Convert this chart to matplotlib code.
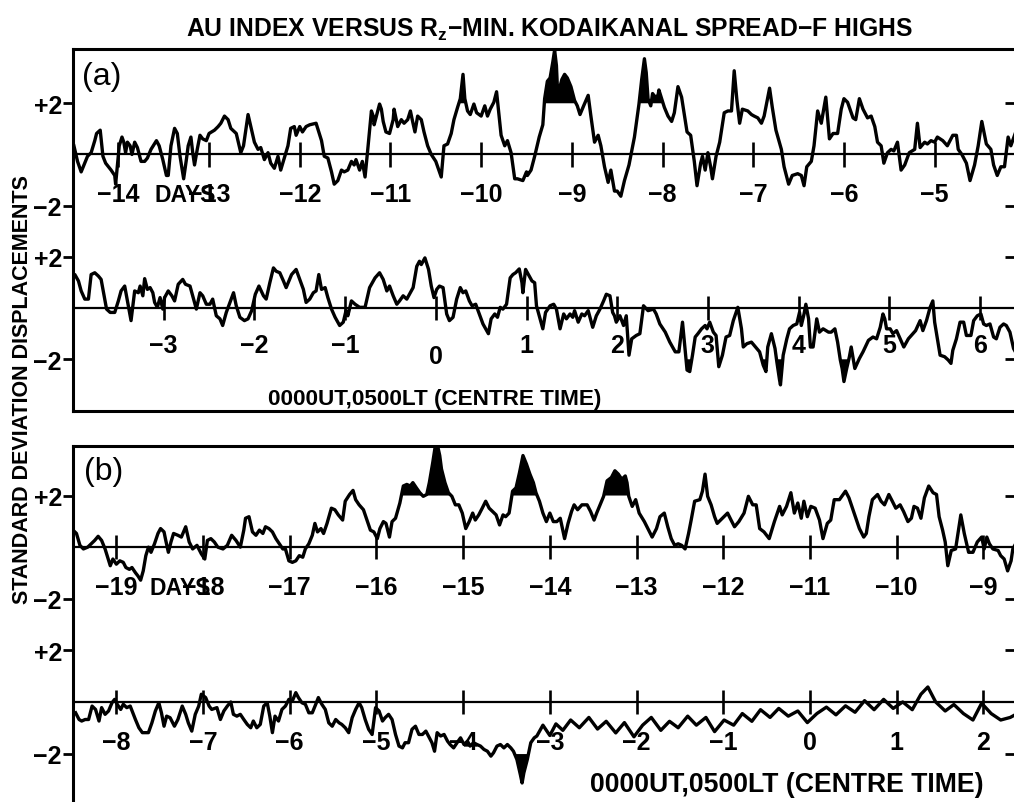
import numpy as np
import matplotlib.pyplot as plt

plt.rcParams['mathtext.default'] = 'regular'
SANS = ['Liberation Sans', 'DejaVu Sans']

# (day, standard-deviation displacement) pairs for each of the four rows

# (a) upper row: days -14.5 .. -4
a_upper = [
    (-14.49, 0.34), (-14.45, -0.27), (-14.41, -0.68), (-14.34, -0.07), (-14.30, 0.07), (-14.26, 0.54),
    (-14.24, 0.82), (-14.20, 0.95), (-14.17, -0.07), (-14.14, -0.34), (-14.08, -0.61), (-14.04, -0.82),
    (-14.03, -1.16), (-13.99, 0.34), (-13.96, 0.68), (-13.94, 0.48), (-13.92, 0.07), (-13.90, 0.48),
    (-13.87, 0.34), (-13.85, 0.0), (-13.82, 0.48), (-13.79, 0.27), (-13.75, -0.27), (-13.71, -0.27),
    (-13.68, -0.14), (-13.64, 0.20), (-13.58, 0.54), (-13.55, 0.34), (-13.51, -0.20), (-13.47, -0.82),
    (-13.45, -0.82), (-13.42, 0.34), (-13.38, 1.02), (-13.35, 0.82), (-13.32, -0.07), (-13.28, -0.95),
    (-13.25, -0.20), (-13.23, 0.34), (-13.20, 0.68), (-13.18, 0.07), (-13.16, -0.41), (-13.13, 0.20),
    (-13.10, 0.75), (-13.07, 0.61), (-13.03, 0.54), (-13.00, 0.82), (-12.94, 0.95), (-12.90, 1.09),
    (-12.87, 1.22), (-12.83, 1.50), (-12.79, 1.36), (-12.76, 1.02), (-12.70, 0.82), (-12.65, 0.07),
    (-12.62, 0.34), (-12.57, 1.56), (-12.54, 1.09), (-12.50, 0.48), (-12.46, 0.20), (-12.43, 0.27),
    (-12.39, -0.20), (-12.35, 0.07), (-12.32, -0.34), (-12.28, -0.54), (-12.24, -0.07), (-12.21, -0.61),
    (-12.17, -0.14), (-12.13, 0.34), (-12.10, 1.02), (-12.06, 1.09), (-12.04, 0.75), (-12.00, 1.09),
    (-11.97, 0.88), (-11.93, 1.09), (-11.89, 1.16), (-11.82, 1.22), (-11.76, 0.54), (-11.73, -0.07),
    (-11.69, -0.14), (-11.65, -0.68), (-11.62, -1.16), (-11.58, -1.02), (-11.54, -0.61), (-11.51, -0.68),
    (-11.47, -0.61), (-11.43, -0.27), (-11.40, -0.41), (-11.38, -0.20), (-11.34, -0.61), (-11.31, -0.27),
    (-11.28, -0.88), (-11.25, 0.20), (-11.21, 1.70), (-11.19, 1.50), (-11.18, 1.16), (-11.12, 1.97),
    (-11.10, 1.77), (-11.08, 1.29), (-11.05, 0.88), (-11.01, 0.82), (-10.97, 1.36), (-10.96, 1.77),
    (-10.92, 1.09), (-10.88, 1.36), (-10.85, 1.22), (-10.81, 1.36), (-10.78, 1.70), (-10.76, 1.36),
    (-10.73, 0.88), (-10.70, 1.50), (-10.66, 1.36), (-10.63, 0.88), (-10.59, 0.34), (-10.55, 0.0),
    (-10.50, -0.27), (-10.44, -0.88), (-10.41, 0.34), (-10.37, 0.41), (-10.33, 0.82), (-10.30, 1.36),
    (-10.26, 1.84), (-10.23, 2.18), (-10.20, 3.13), (-10.18, 2.18), (-10.15, 1.70), (-10.12, 1.56),
    (-10.08, 1.97), (-10.05, 1.63), (-10.00, 1.50), (-9.96, 1.90), (-9.93, 1.50), (-9.90, 1.77),
    (-9.86, 2.04), (-9.83, 2.45), (-9.78, 0.75), (-9.74, 0.34), (-9.71, 0.54), (-9.67, 0.07),
    (-9.63, -0.95), (-9.60, -0.95), (-9.54, -1.02), (-9.50, -0.68), (-9.49, -0.82), (-9.45, -0.61),
    (-9.41, -0.07), (-9.36, 0.68), (-9.32, 1.16), (-9.30, 2.18), (-9.27, 2.86), (-9.24, 2.99),
    (-9.21, 3.61), (-9.19, 4.08), (-9.17, 3.47), (-9.16, 2.65), (-9.14, 2.52), (-9.11, 2.93),
    (-9.08, 3.13), (-9.05, 2.99), (-9.01, 2.65), (-8.97, 2.11), (-8.94, 1.90), (-8.91, 1.56),
    (-8.87, 1.90), (-8.82, 2.31), (-8.79, 1.50), (-8.75, 0.48), (-8.71, 0.75), (-8.68, 0.34),
    (-8.64, -0.48), (-8.60, -1.09), (-8.57, -0.61), (-8.53, -1.43), (-8.50, -1.43), (-8.46, -1.63),
    (-8.42, -1.02), (-8.37, -0.41), (-8.31, 0.68), (-8.26, 1.97), (-8.23, 2.93), (-8.20, 3.74),
    (-8.18, 3.20), (-8.16, 2.18), (-8.13, 1.90), (-8.11, 2.38), (-8.08, 2.24), (-8.05, 2.31),
    (-8.04, 2.52), (-8.01, 2.18), (-7.98, 1.84), (-7.94, 1.50), (-7.90, 1.29), (-7.87, 1.63),
    (-7.83, 2.65), (-7.79, 2.24), (-7.76, 1.56), (-7.73, 0.88), (-7.69, 0.75), (-7.65, -0.27),
    (-7.62, -1.22), (-7.58, -0.34), (-7.56, -0.07), (-7.53, -0.61), (-7.50, 0.07), (-7.47, -0.48),
    (-7.45, -0.95), (-7.41, -0.07), (-7.37, 0.48), (-7.32, 1.63), (-7.28, 1.70), (-7.24, 1.70),
    (-7.21, 3.27), (-7.18, 2.11), (-7.15, 1.22), (-7.12, 1.77), (-7.06, 1.70), (-7.02, 1.56),
    (-6.99, 1.50), (-6.95, 1.43), (-6.91, 1.22), (-6.88, 1.50), (-6.82, 2.59), (-6.79, 1.84),
    (-6.75, 0.95), (-6.69, 0.20), (-6.66, -0.48), (-6.61, -1.16), (-6.57, -0.82), (-6.51, -0.75),
    (-6.47, -0.82), (-6.44, -1.22), (-6.41, -0.48), (-6.36, -0.27), (-6.33, 0.34), (-6.29, 1.70),
    (-6.25, 1.22), (-6.20, 2.24), (-6.16, 0.61), (-6.12, 0.82), (-6.07, 0.82), (-6.03, 1.77),
    (-6.00, 2.18), (-5.96, 2.04), (-5.90, 1.43), (-5.87, 1.36), (-5.83, 2.18), (-5.79, 1.77),
    (-5.74, 1.43), (-5.70, 1.50), (-5.66, 1.09), (-5.63, 0.48), (-5.59, 0.34), (-5.56, -0.34),
    (-5.52, 0.07), (-5.48, 0.20), (-5.45, 0.14), (-5.41, 0.48), (-5.37, -0.61), (-5.33, -0.41),
    (-5.28, 0.07), (-5.22, 0.20), (-5.19, 1.22), (-5.16, 0.27), (-5.11, 0.48), (-5.08, 0.41),
    (-5.04, 0.54), (-5.00, 0.48), (-4.97, 0.68), (-4.91, 0.54), (-4.86, 0.34), (-4.80, 0.75),
    (-4.76, 0.75), (-4.74, 0.20), (-4.70, 0.0), (-4.65, -0.34), (-4.61, -1.02), (-4.56, -0.41),
    (-4.52, 0.34), (-4.48, 1.29), (-4.43, 0.41), (-4.38, 0.20), (-4.35, -0.41), (-4.31, -0.82),
    (-4.27, -0.48), (-4.23, -0.48), (-4.19, 0.68), (-4.16, 0.34), (-4.12, 0.75), (-4.07, 1.15),
    (-4.02, 0.50),
]

# (a) lower row: days -4 .. 6.5
a_lower = [
    (-4.00, 1.18), (-3.98, 1.31), (-3.94, 1.06), (-3.91, 0.67), (-3.87, 0.35), (-3.83, 0.35),
    (-3.80, 1.31), (-3.76, 1.38), (-3.72, 1.25), (-3.69, 1.12), (-3.67, 0.73), (-3.63, -0.04),
    (-3.59, -0.17), (-3.54, -0.17), (-3.50, 0.28), (-3.47, 0.67), (-3.43, 0.86), (-3.39, 0.09),
    (-3.36, -0.49), (-3.32, 0.67), (-3.28, 0.60), (-3.26, 0.86), (-3.23, 0.48), (-3.21, 1.15),
    (-3.18, 0.73), (-3.15, 0.80), (-3.12, 0.60), (-3.10, 0.22), (-3.07, 0.03), (-3.04, 0.41),
    (-3.01, -0.04), (-2.99, 0.41), (-2.95, 0.67), (-2.91, 0.48), (-2.88, 0.28), (-2.84, 0.93),
    (-2.79, 1.12), (-2.76, 0.93), (-2.71, 0.86), (-2.68, 0.48), (-2.64, -0.04), (-2.60, 0.60),
    (-2.57, 0.48), (-2.53, 0.15), (-2.49, 0.15), (-2.46, 0.35), (-2.42, -0.30), (-2.38, -0.42),
    (-2.35, -0.68), (-2.31, -0.17), (-2.27, 0.22), (-2.23, 0.60), (-2.20, 0.09), (-2.16, -0.36),
    (-2.11, -0.49), (-2.07, -0.42), (-2.03, -0.10), (-1.99, 0.54), (-1.95, 0.86), (-1.90, 0.48),
    (-1.87, 0.35), (-1.83, 0.99), (-1.79, 1.57), (-1.76, 1.44), (-1.72, 1.38), (-1.68, 1.06),
    (-1.65, 0.80), (-1.59, 1.31), (-1.54, 1.51), (-1.50, 1.12), (-1.46, 0.73), (-1.43, 0.22),
    (-1.39, 0.35), (-1.35, 0.60), (-1.32, 0.67), (-1.29, 1.31), (-1.26, 0.73), (-1.22, 0.80),
    (-1.19, 0.41), (-1.15, -0.04), (-1.11, -0.36), (-1.06, -0.68), (-1.02, -0.55), (-0.99, -0.10),
    (-0.97, -0.30), (-0.93, 0.28), (-0.89, 0.15), (-0.84, 0.03), (-0.78, 0.03), (-0.73, 0.80),
    (-0.67, 1.18), (-0.62, 1.38), (-0.58, 1.12), (-0.54, 0.67), (-0.51, 0.86), (-0.47, 0.48),
    (-0.43, 0.15), (-0.40, 0.28), (-0.36, 0.48), (-0.32, 0.35), (-0.29, 0.54), (-0.25, 0.80),
    (-0.21, 1.63), (-0.18, 1.83), (-0.16, 1.70), (-0.12, 1.96), (-0.08, 1.51), (-0.05, 0.86),
    (-0.02, 0.41), (0.01, 0.73), (0.04, 0.86), (0.08, 0.80), (0.12, -0.23), (0.15, -0.49),
    (0.19, -0.36), (0.23, 0.35), (0.27, 0.80), (0.30, 0.60), (0.33, 0.67), (0.37, 0.28),
    (0.40, 0.09), (0.44, 0.15), (0.48, -0.23), (0.52, -0.62), (0.58, -1.00), (0.61, -0.42),
    (0.65, -0.23), (0.68, -0.36), (0.71, 0.03), (0.74, -0.04), (0.78, 0.15), (0.82, 1.18),
    (0.85, 1.31), (0.88, 1.38), (0.92, 1.53), (0.95, 0.99), (0.96, 0.60), (0.99, 1.51),
    (1.03, 1.25), (1.06, 1.06), (1.09, 0.99), (1.11, 0.09), (1.15, -0.42), (1.18, -0.81),
    (1.21, -0.17), (1.26, 0.09), (1.30, 0.15), (1.33, -0.04), (1.37, -0.81), (1.41, -0.23),
    (1.44, -0.42), (1.48, -0.23), (1.51, -0.36), (1.53, -0.10), (1.57, -0.55), (1.61, -0.23),
    (1.64, -0.30), (1.68, -0.10), (1.73, -0.75), (1.77, -0.30), (1.81, -0.04), (1.85, 0.28),
    (1.88, 0.54), (1.92, 0.48), (1.95, -0.17), (1.97, -0.30), (1.99, -0.55), (2.03, -0.30),
    (2.07, -0.68), (2.10, -0.30), (2.13, -1.84), (2.16, -1.20), (2.21, -1.07), (2.25, -1.00),
    (2.29, 0.09), (2.34, -0.10), (2.40, -0.04), (2.43, -0.23), (2.47, -0.62), (2.53, -0.94),
    (2.58, -1.33), (2.64, -1.71), (2.68, -1.71), (2.72, -0.55), (2.77, -2.42), (2.80, -2.48),
    (2.83, -1.84), (2.86, -1.13), (2.89, -1.00), (2.93, -0.81), (2.97, -0.68), (2.99, -0.81),
    (3.02, -0.55), (3.06, -0.94), (3.09, -1.07), (3.12, -2.29), (3.16, -1.84), (3.20, -1.13),
    (3.24, -1.07), (3.28, -0.49), (3.33, 0.03), (3.37, -0.81), (3.39, -1.52), (3.43, -1.39),
    (3.48, -1.33), (3.54, -1.58), (3.57, -1.71), (3.61, -2.23), (3.64, -2.48), (3.66, -1.52),
    (3.70, -1.00), (3.74, -1.58), (3.76, -2.10), (3.79, -2.81), (3.80, -3.00), (3.83, -1.84),
    (3.87, -1.20), (3.90, -0.81), (3.94, -0.68), (3.98, -0.62), (4.01, -0.17), (4.03, -0.68),
    (4.06, -0.23), (4.08, 0.15), (4.11, -0.42), (4.13, -1.52), (4.16, -1.52), (4.20, -0.42),
    (4.23, -0.94), (4.27, -0.81), (4.33, -0.94), (4.36, -0.94), (4.40, -0.81), (4.43, -1.33),
    (4.46, -2.03), (4.48, -2.36), (4.50, -2.87), (4.53, -2.36), (4.56, -1.90), (4.58, -1.52),
    (4.62, -2.36), (4.67, -1.97), (4.71, -1.71), (4.77, -1.26), (4.82, -1.13), (4.86, -1.20),
    (4.90, -0.75), (4.93, -0.23), (4.95, -0.42), (4.97, -0.81), (5.01, -0.81), (5.04, -1.00),
    (5.08, -0.88), (5.12, -1.20), (5.16, -1.52), (5.21, -1.20), (5.26, -1.00), (5.29, -0.88),
    (5.34, -0.49), (5.37, -0.88), (5.41, -0.49), (5.45, 0.03), (5.48, 0.28), (5.50, -0.55),
    (5.53, -1.20), (5.56, -1.84), (5.61, -1.90), (5.65, -2.03), (5.68, -2.16), (5.70, -1.65),
    (5.74, -1.20), (5.78, -0.55), (5.82, -0.55), (5.85, -1.07), (5.90, -1.07), (5.93, -0.49),
    (5.97, -0.30), (6.01, -0.23), (6.04, -0.62), (6.07, -0.68), (6.11, -0.62), (6.15, -1.13),
    (6.18, -1.20), (6.22, -0.75), (6.26, -0.62), (6.29, -0.68), (6.33, -0.94), (6.37, -1.58),
    (6.42, -1.90),
]

# (b) upper row: days -19.5 .. -8.5
b_upper = [
    (-19.50, 0.66), (-19.46, 0.53), (-19.42, 0.07), (-19.38, -0.07), (-19.33, 0.0), (-19.29, 0.13),
    (-19.25, 0.26), (-19.21, 0.42), (-19.17, 0.26), (-19.13, -0.07), (-19.10, -0.39), (-19.07, -0.72),
    (-19.04, -0.46), (-19.00, -0.66), (-18.96, -0.53), (-18.92, -0.59), (-18.89, -0.79), (-18.85, -0.86),
    (-18.82, -0.79), (-18.78, -0.99), (-18.75, -1.12), (-18.72, -1.28), (-18.69, -0.92), (-18.66, -0.33),
    (-18.63, 0.0), (-18.60, -0.20), (-18.56, 0.13), (-18.52, 0.53), (-18.49, 0.72), (-18.45, 0.59),
    (-18.43, 0.26), (-18.40, -0.20), (-18.37, 0.20), (-18.34, 0.53), (-18.29, 0.46), (-18.25, 0.39),
    (-18.20, 0.79), (-18.16, 0.20), (-18.12, -0.07), (-18.07, 0.07), (-18.02, -0.26), (-17.98, -0.46),
    (-17.95, 0.26), (-17.91, 0.33), (-17.87, 0.20), (-17.83, 0.0), (-17.77, -0.07), (-17.72, 0.07),
    (-17.67, 0.46), (-17.62, 0.26), (-17.57, 0.0), (-17.53, 0.66), (-17.51, 1.12), (-17.47, 1.18),
    (-17.43, 0.59), (-17.39, 0.46), (-17.35, 0.66), (-17.31, 0.53), (-17.28, 0.79), (-17.24, 0.72),
    (-17.20, 0.59), (-17.16, 0.33), (-17.12, 0.13), (-17.08, -0.07), (-17.05, -0.07), (-17.01, -0.53),
    (-16.97, -0.59), (-16.93, -0.53), (-16.89, -0.33), (-16.85, -0.39), (-16.82, -0.07), (-16.78, 0.13),
    (-16.74, 0.46), (-16.71, 0.92), (-16.68, 0.59), (-16.64, 0.72), (-16.61, 0.53), (-16.57, 0.92),
    (-16.52, 1.51), (-16.48, 1.45), (-16.44, 1.25), (-16.39, 1.05), (-16.36, 1.78), (-16.31, 2.04),
    (-16.27, 2.20), (-16.24, 1.84), (-16.20, 1.64), (-16.15, 1.45), (-16.11, 1.05), (-16.07, 0.66),
    (-16.03, 0.59), (-15.99, 0.33), (-15.96, 0.72), (-15.92, 0.99), (-15.89, 0.92), (-15.85, 0.39),
    (-15.82, 0.99), (-15.78, 1.12), (-15.73, 1.71), (-15.69, 2.37), (-15.65, 2.43), (-15.61, 2.37),
    (-15.58, 2.50), (-15.54, 2.30), (-15.50, 2.11), (-15.46, 1.97), (-15.42, 2.04), (-15.39, 2.50),
    (-15.35, 3.29), (-15.32, 3.95), (-15.30, 4.01), (-15.27, 3.55), (-15.25, 3.03), (-15.21, 2.50),
    (-15.17, 2.11), (-15.13, 1.97), (-15.09, 1.64), (-15.05, 1.64), (-15.01, 1.32), (-14.97, 0.72),
    (-14.93, 0.99), (-14.89, 1.32), (-14.86, 1.05), (-14.82, 1.25), (-14.78, 1.51), (-14.74, 1.78),
    (-14.70, 1.51), (-14.66, 1.38), (-14.62, 1.25), (-14.58, 0.86), (-14.54, 1.25), (-14.51, 1.18),
    (-14.47, 1.32), (-14.43, 2.17), (-14.39, 2.30), (-14.35, 2.89), (-14.31, 3.55), (-14.27, 3.22),
    (-14.23, 2.83), (-14.19, 2.50), (-14.16, 2.11), (-14.12, 1.78), (-14.08, 1.32), (-14.04, 0.99),
    (-14.00, 1.32), (-13.96, 0.99), (-13.92, 0.99), (-13.88, 1.12), (-13.83, 0.33), (-13.79, 0.92),
    (-13.75, 1.38), (-13.72, 1.64), (-13.68, 1.45), (-13.63, 1.64), (-13.57, 1.64), (-13.53, 1.38),
    (-13.49, 1.05), (-13.46, 1.32), (-13.42, 1.64), (-13.38, 1.97), (-13.34, 2.57), (-13.29, 2.70),
    (-13.25, 2.96), (-13.21, 2.83), (-13.17, 2.63), (-13.13, 2.76), (-13.11, 2.50), (-13.09, 1.97),
    (-13.05, 1.58), (-13.01, 1.84), (-12.97, 1.32), (-12.91, 0.99), (-12.86, 0.66), (-12.82, 0.39),
    (-12.77, 0.72), (-12.73, 1.18), (-12.68, 1.32), (-12.64, 0.79), (-12.60, 0.33), (-12.56, 0.07),
    (-12.52, 0.13), (-12.48, 0.07), (-12.44, -0.07), (-12.40, 0.53), (-12.37, 1.05), (-12.33, 1.78),
    (-12.27, 1.84), (-12.24, 2.17), (-12.21, 2.83), (-12.18, 1.97), (-12.14, 1.64), (-12.10, 1.18),
    (-12.07, 0.92), (-12.01, 1.12), (-11.95, 1.32), (-11.91, 1.05), (-11.87, 0.79), (-11.82, 0.99),
    (-11.76, 1.32), (-11.71, 1.97), (-11.66, 1.64), (-11.62, 1.64), (-11.58, 0.72), (-11.53, 0.59),
    (-11.47, 0.33), (-11.41, 0.99), (-11.35, 1.58), (-11.32, 1.25), (-11.27, 1.58), (-11.22, 2.11),
    (-11.18, 1.32), (-11.14, 1.71), (-11.10, 1.12), (-11.07, 1.78), (-11.03, 1.18), (-10.99, 1.58),
    (-10.94, 1.51), (-10.89, 1.05), (-10.85, 0.33), (-10.80, 0.92), (-10.76, 1.05), (-10.72, 1.84),
    (-10.66, 1.84), (-10.59, 2.17), (-10.55, 1.91), (-10.49, 1.32), (-10.43, 0.72), (-10.38, 0.39),
    (-10.35, 0.53), (-10.32, 1.18), (-10.28, 1.84), (-10.22, 2.04), (-10.18, 1.78), (-10.14, 1.64),
    (-10.09, 2.04), (-10.05, 1.78), (-10.01, 1.51), (-9.96, 1.64), (-9.92, 1.38), (-9.87, 0.99),
    (-9.83, 1.12), (-9.80, 1.58), (-9.76, 1.51), (-9.72, 1.12), (-9.68, 1.91), (-9.63, 2.37),
    (-9.58, 2.11), (-9.54, 2.04), (-9.51, 1.18), (-9.47, 0.66), (-9.44, 0.20), (-9.41, -0.72),
    (-9.37, -0.13), (-9.32, -0.07), (-9.26, 1.25), (-9.22, 0.53), (-9.17, -0.20), (-9.12, -0.20),
    (-9.07, 0.20), (-9.02, 0.39), (-8.99, -0.07), (-8.96, 0.39), (-8.93, 0.13), (-8.89, -0.07),
    (-8.83, -0.13), (-8.80, -0.33), (-8.76, -0.46), (-8.72, -0.92), (-8.68, -0.53), (-8.66, -0.07),
    (-8.60, 0.30),
]

# (b) lower row: days -8.5 .. 2.5
b_lower = [
    (-8.47, -0.42), (-8.43, -0.68), (-8.40, -0.74), (-8.36, -0.68), (-8.32, -0.68), (-8.28, -0.16),
    (-8.24, -0.29), (-8.20, -0.74), (-8.17, -0.22), (-8.13, -0.48), (-8.09, -0.35), (-8.05, -0.03),
    (-8.02, 0.10), (-7.99, -0.09), (-7.95, -0.29), (-7.92, -0.09), (-7.88, -0.22), (-7.84, -0.16),
    (-7.78, -0.68), (-7.74, -1.00), (-7.70, -1.19), (-7.67, -1.19), (-7.63, -1.19), (-7.59, -0.81),
    (-7.55, -0.35), (-7.51, -0.03), (-7.48, -0.42), (-7.45, -0.94), (-7.42, -0.55), (-7.38, -0.61),
    (-7.33, -0.94), (-7.29, -0.68), (-7.24, -0.16), (-7.20, -0.48), (-7.17, -0.81), (-7.13, -1.13),
    (-7.09, -0.48), (-7.05, -0.16), (-7.02, 0.30), (-6.97, 0.17), (-6.93, -0.16), (-6.90, -0.29),
    (-6.84, -0.22), (-6.80, -0.68), (-6.76, -0.35), (-6.72, -0.16), (-6.68, 0.0), (-6.65, -0.48),
    (-6.61, -0.55), (-6.57, -0.48), (-6.53, -0.68), (-6.49, -0.87), (-6.45, -1.00), (-6.42, -0.74),
    (-6.38, -1.00), (-6.34, -0.87), (-6.30, -0.16), (-6.26, -0.03), (-6.23, -0.55), (-6.20, -1.19),
    (-6.17, -0.55), (-6.13, -0.74), (-6.09, -0.29), (-6.05, -0.16), (-6.01, 0.10), (-5.97, 0.04),
    (-5.93, 0.36), (-5.90, 0.17), (-5.86, -0.03), (-5.82, -0.09), (-5.78, -0.42), (-5.74, -0.42),
    (-5.70, -0.09), (-5.67, 0.17), (-5.63, -0.09), (-5.59, -0.29), (-5.55, -0.81), (-5.51, -0.94),
    (-5.47, -0.68), (-5.43, -0.81), (-5.40, -0.87), (-5.36, -1.00), (-5.32, -1.19), (-5.28, -0.61),
    (-5.24, -0.29), (-5.20, -0.03), (-5.17, -0.22), (-5.13, -0.68), (-5.09, -1.06), (-5.05, -1.26),
    (-5.01, -0.22), (-4.97, -0.35), (-4.93, -0.74), (-4.90, -0.61), (-4.86, -0.48), (-4.82, -0.68),
    (-4.78, -1.26), (-4.74, -1.71), (-4.70, -1.78), (-4.67, -1.58), (-4.63, -1.58), (-4.59, -1.06),
    (-4.55, -0.94), (-4.51, -1.26), (-4.47, -1.26), (-4.43, -1.13), (-4.40, -1.32), (-4.36, -1.58),
    (-4.33, -1.91), (-4.30, -1.19), (-4.26, -1.32), (-4.22, -1.26), (-4.18, -1.52), (-4.15, -1.65),
    (-4.11, -1.78), (-4.07, -1.58), (-4.03, -1.39), (-3.99, -1.65), (-3.95, -1.52), (-3.92, -1.71),
    (-3.88, -1.58), (-3.84, -1.65), (-3.80, -1.71), (-3.76, -1.84), (-3.72, -1.91), (-3.68, -2.10),
    (-3.65, -1.97), (-3.61, -1.71), (-3.57, -1.65), (-3.53, -1.78), (-3.49, -1.65), (-3.45, -1.78),
    (-3.42, -1.91), (-3.38, -2.23), (-3.34, -2.82), (-3.32, -3.14), (-3.30, -2.75), (-3.26, -2.23),
    (-3.22, -1.58), (-3.18, -1.39), (-3.15, -1.32), (-3.08, -0.90), (-3.00, -1.30), (-2.93, -0.85),
    (-2.85, -1.10), (-2.76, -0.70), (-2.66, -1.00), (-2.55, -0.60), (-2.45, -1.05), (-2.35, -0.75),
    (-2.24, -1.20), (-2.14, -0.80), (-2.03, -1.35), (-1.93, -0.90), (-1.83, -0.60), (-1.72, -1.10),
    (-1.62, -0.75), (-1.52, -1.00), (-1.41, -0.55), (-1.31, -0.90), (-1.20, -0.60), (-1.10, -1.15),
    (-0.99, -0.70), (-0.88, -0.90), (-0.78, -0.45), (-0.67, -0.75), (-0.57, -0.30), (-0.46, -0.60),
    (-0.36, -0.25), (-0.25, -0.55), (-0.14, -0.35), (-0.03, -0.80), (0.08, -0.45), (0.19, -0.20),
    (0.30, -0.50), (0.41, -0.15), (0.52, -0.40), (0.63, 0.05), (0.74, -0.30), (0.85, 0.10),
    (0.96, -0.25), (1.07, 0.0), (1.18, -0.30), (1.28, 0.30), (1.36, 0.58), (1.45, 0.0),
    (1.56, -0.35), (1.66, -0.10), (1.77, -0.45), (1.88, -0.70), (1.98, -0.05), (2.09, -0.45),
    (2.20, -0.70), (2.31, -0.60), (2.42, -0.40),
]

# stretches that are blacked in beyond the +/-2 level
a_upper_marked = [(-10.24, -10.16), (-9.32, -8.95), (-8.27, -7.99)]
a_lower_marked = [(2.74, 2.84), (3.58, 3.68), (3.74, 3.86), (4.44, 4.56)]
b_upper_marked = [(-15.72, -15.12), (-14.45, -14.10), (-13.36, -13.08)]
b_lower_marked = [(-3.40, -3.25)]

W, H = 1014, 803
fig = plt.figure(figsize=(W / 100, H / 100), dpi=100)
fig.patch.set_facecolor('white')


def fx(px):
    return px / W


def fy(py):
    return 1 - py / H


def minus(n):
    return str(n).replace('-', '\u2212')


def draw_row(ax, series, off, shift, ticks, marked, sign, label_drop=1.8, low_zero=False):
    days = np.array([p[0] for p in series])
    vals = np.array([p[1] for p in series])
    x = days - shift
    ax.axhline(off, color='black', lw=1.6, zorder=2)
    ax.plot(x, vals + off, color='black', lw=2.4, zorder=3)
    inside = np.zeros(len(days), dtype=bool)
    for lo, hi in marked:
        inside |= (days >= lo) & (days <= hi)
    ax.fill_between(x, vals + off, off + 2 * sign, where=inside & (vals * sign > 2),
                    interpolate=True, color='black', lw=0, zorder=3)
    ax.vlines(np.array(ticks) - shift, off - 0.47, off + 0.47, color='black', lw=1.9, zorder=2)
    for t in ticks:
        drop = label_drop + (0.42 if (low_zero and t == 0) else 0)
        ax.text(t - shift, off - drop, minus(t), ha='center', va='baseline',
                fontsize=18, fontweight='bold', family=SANS, zorder=4)


def make_panel(top, x0, per_day, ymin, ymax, off):
    ax = fig.add_axes([fx(73), fy(top + 362), fx(953), 362 / H])
    ax.set_xlim(x0, x0 + 953 / per_day)
    ax.set_ylim(ymin, ymax)
    for s in ax.spines.values():
        s.set_linewidth(2.2)
    ax.set_xticks([])
    ax.set_yticks([off + 2, off - 2, 2, -2])
    ax.set_yticklabels(['+2', '\u22122', '+2', '\u22122'], fontsize=18,
                       fontweight='bold', family=SANS)
    ax.tick_params(axis='y', direction='out', length=7, width=2, pad=1)
    right = ax.secondary_yaxis('right')
    right.set_yticks([off + 2, off - 2, 2, -2])
    right.tick_params(direction='in', length=15, width=2, labelright=False)
    return ax


# panel (a): upper row runs -14.5..-4 days, lower row -4..6.5 days
ax_a = make_panel(50, -14.5, 90.7, -4.02, 10.12, 6)
draw_row(ax_a, a_upper, 6, 0, range(-14, -4), a_upper_marked, 1)
draw_row(ax_a, a_lower, 0, 10.5, range(-3, 7), a_lower_marked, -1, label_drop=1.72, low_zero=True)
ax_a.text(-12.93, 6 - 1.8, 'DAYS', ha='right', va='baseline', fontsize=16.5,
          fontweight='bold', family=SANS, zorder=4)
fig.text(fx(82), fy(77), '(a)', ha='left', va='center', fontsize=23, family=SANS)
fig.text(fx(268), fy(405), '0000UT,0500LT (CENTRE TIME)', ha='left', va='baseline',
         fontsize=16.2, fontweight='bold', family=SANS)

# panel (b): upper row runs -19.5..-8.5 days, lower row -8.5..2.5 days
ax_b = make_panel(447, -19.5, 86.7, -4.11, 9.92, 6)
draw_row(ax_b, b_upper, 6, 0, range(-19, -8), b_upper_marked, 1, label_drop=1.82)
draw_row(ax_b, b_lower, 0, 11, range(-8, 3), b_lower_marked, -1, label_drop=1.82)
ax_b.text(-17.91, 6 - 1.82, 'DAYS', ha='right', va='baseline', fontsize=16.5,
          fontweight='bold', family=SANS, zorder=4)
fig.text(fx(84), fy(472), '(b)', ha='left', va='center', fontsize=23, family=SANS)
fig.text(fx(590), fy(792), '0000UT,0500LT (CENTRE TIME)', ha='left', va='baseline',
         fontsize=19.2, fontweight='bold', family=SANS)

fig.text(fx(550), fy(37), 'AU INDEX VERSUS R$_{z}$\u2212MIN. KODAIKANAL SPREAD\u2212F HIGHS',
         ha='center', va='baseline', fontsize=17.8, fontweight='bold', family=SANS)
fig.text(fx(23), fy(390), 'STANDARD DEVIATION DISPLACEMENTS', rotation=90,
         ha='center', va='center', fontsize=15.5, fontweight='bold', family=SANS)

fig.savefig('out.png', dpi=100, facecolor='white')
